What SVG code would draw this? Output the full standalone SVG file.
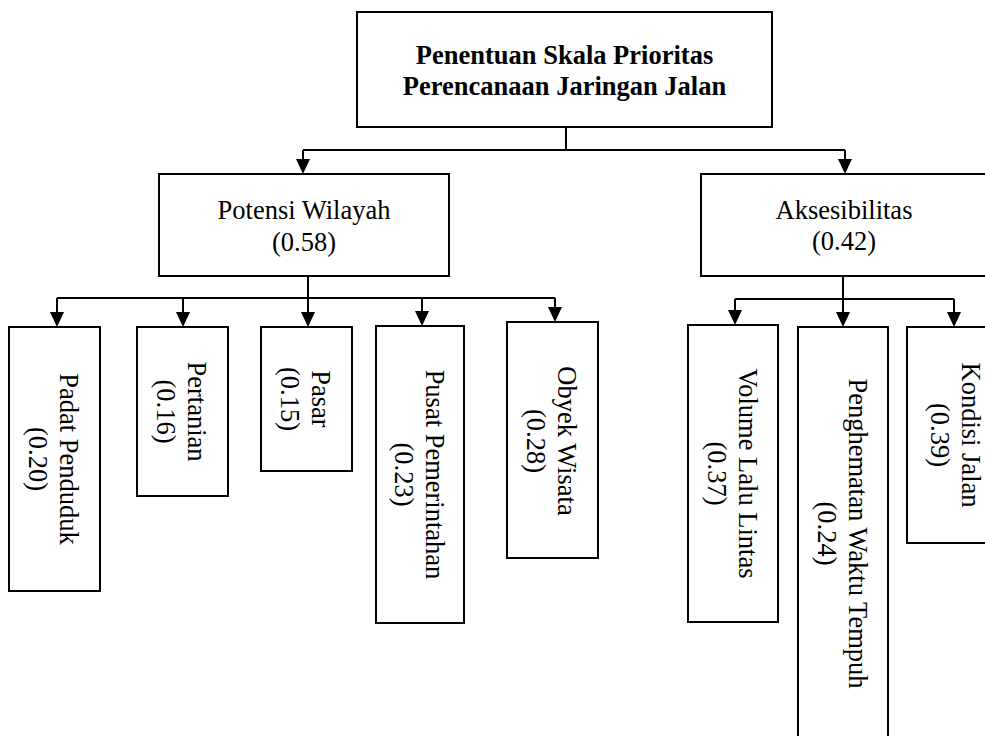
<svg xmlns="http://www.w3.org/2000/svg" width="985" height="736" viewBox="0 0 985 736">
<style>
  .box { fill: #ffffff; stroke: #000000; stroke-width: 2; }
  .conn { fill: none; stroke: #000000; stroke-width: 2; }
  .t { font-family: "Liberation Serif", "Times New Roman", serif; font-size: 26.5px; fill: #000000; text-anchor: middle; }
  .b { font-weight: bold; }
</style>
<defs>
  <marker id="arr" viewBox="0 0 15 14" markerWidth="15" markerHeight="14" refX="7" refY="7" orient="auto" markerUnits="userSpaceOnUse">
    <path d="M0,0 L15,7 L0,14 z" fill="#000000"/>
  </marker>
</defs>
<rect width="985" height="736" fill="#ffffff"/>

<g id="connectors">
  <path class="conn" d="M566,127 V150 M303,150 H845"/>
  <path class="conn" d="M303,150 V166" marker-end="url(#arr)"/>
  <path class="conn" d="M845,150 V166" marker-end="url(#arr)"/>
  <path class="conn" d="M308,276 V298 M57,298 H555"/>
  <path class="conn" d="M57,298 V319" marker-end="url(#arr)"/>
  <path class="conn" d="M183,298 V319" marker-end="url(#arr)"/>
  <path class="conn" d="M308,298 V319" marker-end="url(#arr)"/>
  <path class="conn" d="M422,298 V318" marker-end="url(#arr)"/>
  <path class="conn" d="M555,298 V314" marker-end="url(#arr)"/>
  <path class="conn" d="M843,276 V299 M735,299 H954"/>
  <path class="conn" d="M735,299 V317" marker-end="url(#arr)"/>
  <path class="conn" d="M843,299 V319" marker-end="url(#arr)"/>
  <path class="conn" d="M954,299 V319" marker-end="url(#arr)"/>
</g>

<g id="root">
  <rect class="box" x="357" y="12" width="415" height="115"/>
  <text class="t b" x="564.5" y="64">Penentuan Skala Prioritas</text>
  <text class="t b" x="564.5" y="95">Perencanaan Jaringan Jalan</text>
</g>

<g id="potensi">
  <rect class="box" x="159" y="174" width="290" height="102"/>
  <text class="t" x="304" y="219">Potensi Wilayah</text>
  <text class="t" x="304" y="251">(0.58)</text>
</g>

<g id="aksesibilitas">
  <rect class="box" x="701" y="174" width="286" height="102"/>
  <text class="t" x="844" y="219">Aksesibilitas</text>
  <text class="t" x="844" y="250">(0.42)</text>
</g>

<g id="padat">
  <rect class="box" x="9" y="327" width="91" height="264"/>
  <text class="t" transform="translate(60,459) rotate(90)"><tspan x="0" y="0">Padat Penduduk</tspan><tspan x="0" y="31">(0.20)</tspan></text>
</g>

<g id="pertanian">
  <rect class="box" x="137" y="327" width="91" height="169"/>
  <text class="t" transform="translate(188,411.5) rotate(90)"><tspan x="0" y="0">Pertanian</tspan><tspan x="0" y="31">(0.16)</tspan></text>
</g>

<g id="pasar">
  <rect class="box" x="261" y="327" width="91" height="144"/>
  <text class="t" transform="translate(312,399) rotate(90)"><tspan x="0" y="0">Pasar</tspan><tspan x="0" y="31">(0.15)</tspan></text>
</g>

<g id="pusat">
  <rect class="box" x="376" y="326" width="88" height="297"/>
  <text class="t" transform="translate(425.5,474.5) rotate(90)"><tspan x="0" y="0">Pusat Pemerintahan</tspan><tspan x="0" y="31">(0.23)</tspan></text>
</g>

<g id="obyek">
  <rect class="box" x="507" y="322" width="91" height="236"/>
  <text class="t" transform="translate(558,441) rotate(90)"><tspan x="0" y="0">Obyek Wisata</tspan><tspan x="0" y="31">(0.28)</tspan></text>
</g>

<g id="volume">
  <rect class="box" x="688" y="325" width="90" height="297"/>
  <text class="t" transform="translate(738.5,473.5) rotate(90)"><tspan x="0" y="0">Volume Lalu Lintas</tspan><tspan x="0" y="31">(0.37)</tspan></text>
</g>

<g id="penghematan">
  <rect class="box" x="798" y="327" width="90" height="420"/>
  <text class="t" transform="translate(848.5,533.5) rotate(90)"><tspan x="0" y="0">Penghematan Waktu Tempuh</tspan><tspan x="0" y="31">(0.24)</tspan></text>
</g>

<g id="kondisi">
  <rect class="box" x="907" y="327" width="100" height="216"/>
  <text class="t" transform="translate(962,435) rotate(90)"><tspan x="0" y="0">Kondisi Jalan</tspan><tspan x="0" y="31">(0.39)</tspan></text>
</g>
</svg>
